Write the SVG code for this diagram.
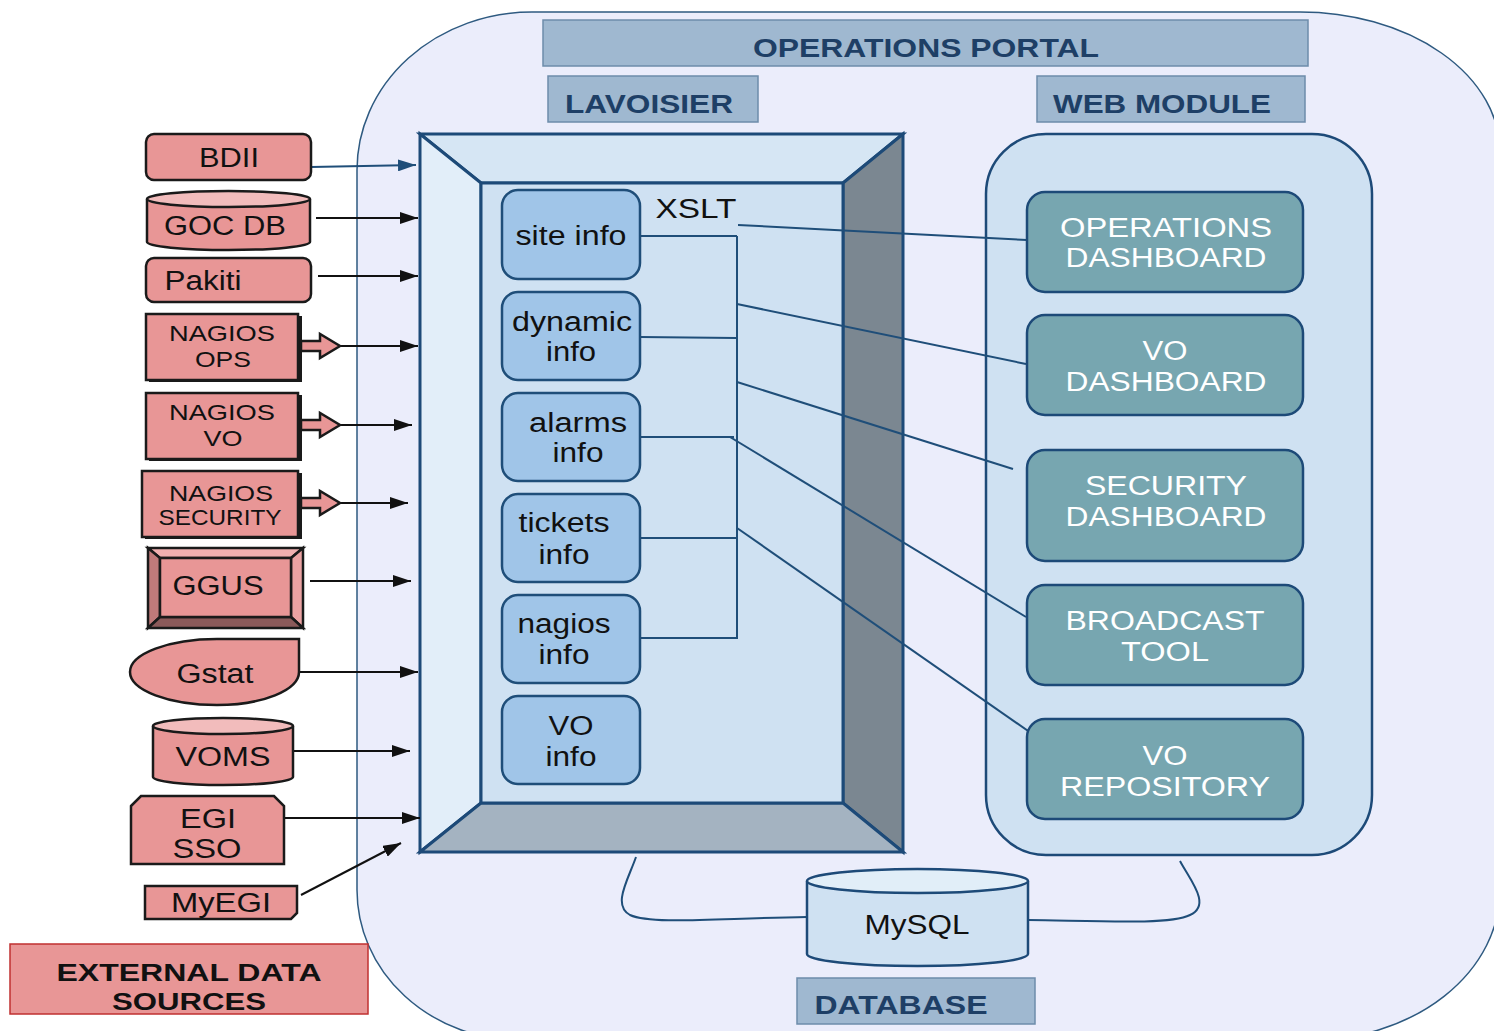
<svg xmlns="http://www.w3.org/2000/svg" width="1494" height="1031" viewBox="0 0 1494 1031">
<defs>
<style>
text{font-family:"Liberation Sans",Arial,sans-serif;text-anchor:middle}
.lbl{font-size:27px;fill:#111}
.nag{font-size:22px;fill:#111}
.ttl{font-size:25px;font-weight:bold;fill:#1e3f66}
.ext{font-size:24px;font-weight:bold;fill:#111}
.wt{font-size:27px;fill:#fff}
.src{fill:#e89696;stroke:#1a1a1a;stroke-width:2.5}
.info{fill:#a0c5e8;stroke:#1f4e79;stroke-width:2.5}
.web{fill:#77a6b0;stroke:#1d4a78;stroke-width:2.5}
.tbox{fill:#9fb8d0;stroke:#6d8cab;stroke-width:1.5}
.ar{stroke:#111;stroke-width:2;fill:none;marker-end:url(#ah)}
.cn{stroke:#1f4e79;stroke-width:2;fill:none}
</style>
<marker id="ah" markerWidth="20" markerHeight="12" refX="18" refY="6" orient="auto" markerUnits="userSpaceOnUse">
<path d="M0,0 L18,6 L0,12 Z" fill="#111"/>
</marker>
<marker id="ahb" markerWidth="20" markerHeight="12" refX="18" refY="6" orient="auto" markerUnits="userSpaceOnUse">
<path d="M0,0 L18,6 L0,12 Z" fill="#1f4e79"/>
</marker>
</defs>

<g id="portal">
<path d="M357,170 A175,158 0 0 1 532,12 L1300,12 A200,140 0 0 1 1500,152 L1500,890 A190,150 0 0 1 1310,1040 L520,1040 A163,150 0 0 1 357,890 Z" fill="#ebedfb" stroke="#2e5a80" stroke-width="1.5"/>
<rect class="tbox" x="543" y="20" width="765" height="46"/>
<text class="ttl" x="926" y="57" textLength="346" lengthAdjust="spacingAndGlyphs">OPERATIONS PORTAL</text>
</g>

<g id="lavoisier-label">
<rect class="tbox" x="548" y="76" width="210" height="46"/>
<text class="ttl" x="649" y="113" textLength="168" lengthAdjust="spacingAndGlyphs">LAVOISIER</text>
</g>
<g id="webmodule-label">
<rect class="tbox" x="1037" y="76" width="268" height="46"/>
<text class="ttl" x="1162" y="113" textLength="218" lengthAdjust="spacingAndGlyphs">WEB MODULE</text>
</g>

<g id="lavoisier" stroke="#1d4a78" stroke-width="3" stroke-linejoin="miter">
<polygon points="420,134 903,134 843,183 481,183" fill="#d6e6f4"/>
<polygon points="420,134 481,183 481,803 420,852" fill="#e2eef9"/>
<polygon points="903,134 903,852 843,803 843,183" fill="#7b8791"/>
<polygon points="420,852 481,803 843,803 903,852" fill="#a4b3c1"/>
<rect x="481" y="183" width="362" height="620" fill="#cfe1f2"/>
</g>

<g id="webmodule">
<rect x="986" y="134" width="386" height="721" rx="60" fill="#cfe1f2" stroke="#1d4a78" stroke-width="2.5"/>
</g>

<g id="connectors">
<path class="cn" d="M737,236 L737,638"/>
<path class="cn" d="M640,236 L737,236"/>
<path class="cn" d="M640,337 L736,338"/>
<path class="cn" d="M640,437 L734,437"/>
<path class="cn" d="M640,538 L737,538"/>
<path class="cn" d="M640,638 L738,638"/>
<path class="cn" d="M738,225 L1027,240"/>
<path class="cn" d="M737,304 L1026,364"/>
<path class="cn" d="M737,382 L1013,469"/>
<path class="cn" d="M730,437 L1026,617"/>
<path class="cn" d="M737,528 L1041,740"/>
<path class="cn" d="M636,857 C628,880 612,905 630,915 C652,925 720,918 807,917"/>
<path class="cn" d="M1180,861 C1190,880 1212,905 1190,915 C1170,925 1100,921 1028,920"/>
<path d="M311,167 L416,165" stroke="#1f4e79" stroke-width="2" fill="none" marker-end="url(#ahb)"/>
<path class="ar" d="M316,218 L418,218"/>
<path class="ar" d="M318,276 L418,276"/>
<path class="ar" d="M340,346 L418,346"/>
<path class="ar" d="M340,425 L412,425"/>
<path class="ar" d="M340,503 L408,503"/>
<path class="ar" d="M310,581 L411,581"/>
<path class="ar" d="M300,672 L418,672"/>
<path class="ar" d="M290,751 L410,751"/>
<path class="ar" d="M285,818 L420,818"/>
<path class="ar" d="M301,895 L401,843"/>
</g>

<g id="xslt"><text class="lbl" x="696" y="218" textLength="81" lengthAdjust="spacingAndGlyphs">XSLT</text></g>

<g id="site-info">
<rect class="info" x="502" y="190" width="138" height="89" rx="16"/>
<text class="lbl" x="571" y="245" textLength="111" lengthAdjust="spacingAndGlyphs">site info</text>
</g>
<g id="dynamic-info">
<rect class="info" x="502" y="292" width="138" height="88" rx="16"/>
<text class="lbl" x="572" y="331" textLength="120" lengthAdjust="spacingAndGlyphs">dynamic</text>
<text class="lbl" x="571" y="361" textLength="50" lengthAdjust="spacingAndGlyphs">info</text>
</g>
<g id="alarms-info">
<rect class="info" x="502" y="393" width="138" height="88" rx="16"/>
<text class="lbl" x="578" y="432" textLength="98" lengthAdjust="spacingAndGlyphs">alarms</text>
<text class="lbl" x="578" y="462" textLength="51" lengthAdjust="spacingAndGlyphs">info</text>
</g>
<g id="tickets-info">
<rect class="info" x="502" y="494" width="138" height="88" rx="16"/>
<text class="lbl" x="564" y="532" textLength="91" lengthAdjust="spacingAndGlyphs">tickets</text>
<text class="lbl" x="564" y="564" textLength="51" lengthAdjust="spacingAndGlyphs">info</text>
</g>
<g id="nagios-info">
<rect class="info" x="502" y="595" width="138" height="88" rx="16"/>
<text class="lbl" x="564" y="633" textLength="93" lengthAdjust="spacingAndGlyphs">nagios</text>
<text class="lbl" x="564" y="664" textLength="51" lengthAdjust="spacingAndGlyphs">info</text>
</g>
<g id="vo-info">
<rect class="info" x="502" y="696" width="138" height="88" rx="16"/>
<text class="lbl" x="571" y="735" textLength="45" lengthAdjust="spacingAndGlyphs">VO</text>
<text class="lbl" x="571" y="766" textLength="51" lengthAdjust="spacingAndGlyphs">info</text>
</g>

<g id="ops-dashboard">
<rect class="web" x="1027" y="192" width="276" height="100" rx="18"/>
<text class="wt" x="1166" y="237" textLength="212" lengthAdjust="spacingAndGlyphs">OPERATIONS</text>
<text class="wt" x="1166" y="267" textLength="201" lengthAdjust="spacingAndGlyphs">DASHBOARD</text>
</g>
<g id="vo-dashboard">
<rect class="web" x="1027" y="315" width="276" height="100" rx="18"/>
<text class="wt" x="1165" y="360" textLength="45" lengthAdjust="spacingAndGlyphs">VO</text>
<text class="wt" x="1166" y="391" textLength="201" lengthAdjust="spacingAndGlyphs">DASHBOARD</text>
</g>
<g id="security-dashboard">
<rect class="web" x="1027" y="450" width="276" height="111" rx="18"/>
<text class="wt" x="1166" y="495" textLength="162" lengthAdjust="spacingAndGlyphs">SECURITY</text>
<text class="wt" x="1166" y="526" textLength="201" lengthAdjust="spacingAndGlyphs">DASHBOARD</text>
</g>
<g id="broadcast-tool">
<rect class="web" x="1027" y="585" width="276" height="100" rx="18"/>
<text class="wt" x="1165" y="630" textLength="199" lengthAdjust="spacingAndGlyphs">BROADCAST</text>
<text class="wt" x="1165" y="661" textLength="88" lengthAdjust="spacingAndGlyphs">TOOL</text>
</g>
<g id="vo-repository">
<rect class="web" x="1027" y="719" width="276" height="100" rx="18"/>
<text class="wt" x="1165" y="765" textLength="45" lengthAdjust="spacingAndGlyphs">VO</text>
<text class="wt" x="1165" y="796" textLength="210" lengthAdjust="spacingAndGlyphs">REPOSITORY</text>
</g>

<g id="mysql">
<path d="M807,881 L807,954 A110.5,12 0 0 0 1028,954 L1028,881" fill="#cfe1f2" stroke="#1d4a78" stroke-width="2.5"/>
<ellipse cx="917.5" cy="881" rx="110.5" ry="12" fill="#e1eef8" stroke="#1d4a78" stroke-width="2.5"/>
<text class="lbl" x="917" y="934" textLength="105" lengthAdjust="spacingAndGlyphs">MySQL</text>
</g>
<g id="database-label">
<rect class="tbox" x="797" y="978" width="238" height="46"/>
<text class="ttl" x="901" y="1014" textLength="173" lengthAdjust="spacingAndGlyphs">DATABASE</text>
</g>

<g id="bdii">
<rect class="src" x="146" y="134" width="165" height="46" rx="8"/>
<text class="lbl" x="229" y="167" textLength="60" lengthAdjust="spacingAndGlyphs">BDII</text>
</g>
<g id="gocdb">
<path class="src" d="M147,199 L147,242 A81.5,8 0 0 0 310,242 L310,199"/>
<ellipse cx="228.5" cy="199" rx="81.5" ry="8" fill="#f2bcbc" stroke="#1a1a1a" stroke-width="2.5"/>
<text class="lbl" x="225" y="235" textLength="122" lengthAdjust="spacingAndGlyphs">GOC DB</text>
</g>
<g id="pakiti">
<rect class="src" x="146" y="258" width="165" height="44" rx="8"/>
<text class="lbl" x="203" y="290" textLength="77" lengthAdjust="spacingAndGlyphs">Pakiti</text>
</g>
<g id="nagios-ops">
<rect x="149" y="316" width="153" height="66" fill="#1a1a1a"/>
<rect class="src" x="146" y="314" width="152" height="66" stroke-width="2"/>
<polygon class="src" points="301,341 320,341 320,334 340,346 320,358 320,351 301,351" stroke-width="2"/>
<text class="nag" x="222" y="341" textLength="106" lengthAdjust="spacingAndGlyphs">NAGIOS</text>
<text class="nag" x="223" y="367" textLength="56" lengthAdjust="spacingAndGlyphs">OPS</text>
</g>
<g id="nagios-vo">
<rect x="149" y="395" width="153" height="66" fill="#1a1a1a"/>
<rect class="src" x="146" y="393" width="152" height="66" stroke-width="2"/>
<polygon class="src" points="301,420 320,420 320,413 340,425 320,437 320,430 301,430" stroke-width="2"/>
<text class="nag" x="222" y="420" textLength="106" lengthAdjust="spacingAndGlyphs">NAGIOS</text>
<text class="nag" x="223" y="446" textLength="39" lengthAdjust="spacingAndGlyphs">VO</text>
</g>
<g id="nagios-security">
<rect x="145" y="473" width="157" height="66" fill="#1a1a1a"/>
<rect class="src" x="142" y="471" width="156" height="66" stroke-width="2"/>
<polygon class="src" points="301,498 320,498 320,491 340,503 320,515 320,508 301,508" stroke-width="2"/>
<text class="nag" x="221" y="501" textLength="104" lengthAdjust="spacingAndGlyphs">NAGIOS</text>
<text class="nag" x="220" y="525" textLength="123" lengthAdjust="spacingAndGlyphs">SECURITY</text>
</g>
<g id="ggus" stroke="#1a1a1a" stroke-width="2.5" stroke-linejoin="miter">
<polygon points="148,548 303,548 291,558 160,558" fill="#f0b0b0"/>
<polygon points="148,548 160,558 160,617 148,628" fill="#c07a7a"/>
<polygon points="303,548 303,628 291,617 291,558" fill="#eba3a3"/>
<polygon points="148,628 160,617 291,617 303,628" fill="#8b5a5a"/>
<rect x="160" y="558" width="131" height="59" fill="#e89696"/>
<text class="lbl" x="218" y="595" textLength="91" lengthAdjust="spacingAndGlyphs" stroke="none">GGUS</text>
</g>
<g id="gstat">
<path class="src" d="M130,672 A87,33 0 0 1 217,639 L299,639 L299,672 A82,33 0 0 1 217,705 A87,33 0 0 1 130,672 Z"/>
<text class="lbl" x="215" y="683" textLength="77" lengthAdjust="spacingAndGlyphs">Gstat</text>
</g>
<g id="voms">
<path class="src" d="M153,726 L153,777 A70,8 0 0 0 293,777 L293,726"/>
<ellipse cx="223" cy="726" rx="70" ry="8" fill="#f2bcbc" stroke="#1a1a1a" stroke-width="2.5"/>
<text class="lbl" x="223" y="766" textLength="95" lengthAdjust="spacingAndGlyphs">VOMS</text>
</g>
<g id="egi-sso">
<path class="src" d="M131,806 L141,796 L274,796 L284,806 L284,864 L131,864 Z"/>
<text class="lbl" x="208" y="828" textLength="56" lengthAdjust="spacingAndGlyphs">EGI</text>
<text class="lbl" x="207" y="858" textLength="69" lengthAdjust="spacingAndGlyphs">SSO</text>
</g>
<g id="myegi">
<path class="src" d="M145,886 L297,886 L297,913 L291,919 L145,919 Z"/>
<text class="lbl" x="221" y="912" textLength="100" lengthAdjust="spacingAndGlyphs">MyEGI</text>
</g>
<g id="external-label">
<rect x="10" y="944" width="358" height="70" fill="#e89696" stroke="#c03030" stroke-width="1.5"/>
<text class="ext" x="189" y="981" textLength="265" lengthAdjust="spacingAndGlyphs">EXTERNAL DATA</text>
<text class="ext" x="189" y="1010" textLength="154" lengthAdjust="spacingAndGlyphs">SOURCES</text>
</g>
</svg>
